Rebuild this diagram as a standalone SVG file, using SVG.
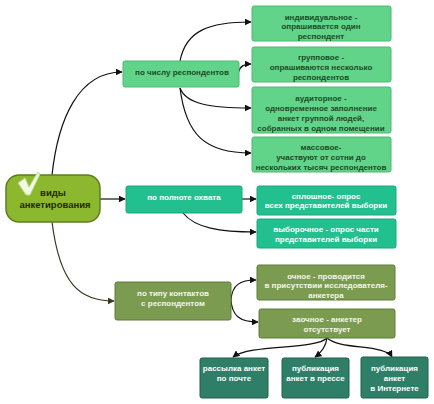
<svg xmlns="http://www.w3.org/2000/svg" width="434" height="404" viewBox="0 0 434 404">
<defs>
<marker id="ah" viewBox="0 0 10 10" refX="9" refY="5" markerWidth="7" markerHeight="7" markerUnits="userSpaceOnUse" orient="auto"><path d="M0,0 L10,5 L0,10 Z" fill="#111"/></marker>
<marker id="ahb" viewBox="0 0 10 10" refX="9" refY="5" markerWidth="7" markerHeight="7" markerUnits="userSpaceOnUse" orient="auto"><path d="M0,0 L10,5 L0,10 Z" fill="#3d3520"/></marker>
</defs>
<style>
text{font-family:"Liberation Sans",Arial,sans-serif;font-weight:bold;font-size:8px;text-anchor:middle}
.lg rect{fill:#62d48a;stroke:#4fb873;stroke-width:1}
.lg text{fill:#1d4a26}
.tl rect{fill:#22bf8f;stroke:#1aa67a;stroke-width:1}
.tl text{fill:#ffffff}
.ol rect{fill:#7b9b50;stroke:#5f7d3a;stroke-width:1}
.ol text{fill:#f4f6ea}
.dt rect{fill:#2e7e68;stroke:#21604f;stroke-width:1}
.dt text{fill:#ffffff}
.c{fill:none;stroke:#111;stroke-width:1.2;marker-end:url(#ah)}
.cb{fill:none;stroke:#3d3520;stroke-width:1.2;marker-end:url(#ahb)}
</style>
<rect width="434" height="404" fill="#ffffff"/>
<g id="connectors">
<path class="c" d="M52,175 C58,120 78,72 122,72"/>
<path class="c" d="M100,199 L125,199"/>
<path class="cb" d="M52,222 C60,285 80,301 114,301"/>
<path class="c" d="M180,61 C186,30 210,22 251,22"/>
<path class="c" d="M238,73 C240,66 244,64 251,64"/>
<path class="c" d="M180,88 C186,104 210,108 251,108"/>
<path class="c" d="M180,88 C186,135 205,153 251,153"/>
<path class="c" d="M242,199 L256,199"/>
<path class="c" d="M183,213 C195,228 220,232 256,232"/>
<path class="c" d="M231,300 C232,285 240,280 256,280"/>
<path class="c" d="M231,300 C232,316 240,322 258,322"/>
<path class="c" d="M327,338 C315,350 250,344 233,357"/>
<path class="c" d="M327,338 C326,346 322,352 315,357"/>
<path class="c" d="M327,338 C340,350 385,344 392,357"/>
</g>
<g id="root">
<rect x="6" y="175" width="94" height="47" rx="13" fill="#8cb830" stroke="#5f7d1c" stroke-width="1.5"/>
<path d="M18,183 L25,178 L29,187 L38,172 L40,174 L30,195 L26,195 Z" fill="#f2f8e6" stroke="#b8dc80" stroke-width="1"/>
<text x="53" y="196" style="font-size:9.5px;fill:#1d2b05">виды</text>
<text x="55" y="208" style="font-size:9.5px;fill:#1d2b05">анкетирования</text>
</g>
<g id="n-chislu" class="lg">
<rect x="123" y="61" width="116" height="26" rx="2"/>
<text x="182" y="75">по числу респондентов</text>
</g>
<g id="n-ind" class="lg">
<rect x="252" y="6" width="139" height="35" rx="2"/>
<text x="321" y="19.5">индивидуальное -</text>
<text x="321" y="29">опрашивается один</text>
<text x="321" y="38.5">респондент</text>
</g>
<g id="n-grp" class="lg">
<rect x="252" y="47" width="139" height="35" rx="2"/>
<text x="321" y="60">групповое -</text>
<text x="321" y="70">опрашиваются несколько</text>
<text x="321" y="80">респондентов</text>
</g>
<g id="n-aud" class="lg">
<rect x="252" y="87" width="139" height="46" rx="2"/>
<text x="321" y="100.5">аудиторное -</text>
<text x="321" y="111">одновременное заполнение</text>
<text x="321" y="121">анкет группой людей,</text>
<text x="321" y="131">собранных в одном помещении</text>
</g>
<g id="n-mass" class="lg">
<rect x="252" y="137" width="139" height="35" rx="2"/>
<text x="321" y="150">массовое-</text>
<text x="321" y="160">участвуют от сотни до</text>
<text x="321" y="170">нескольких тысяч респондентов</text>
</g>
<g id="n-polnote" class="tl">
<rect x="126" y="186" width="116" height="27" rx="2"/>
<text x="184" y="199.5">по полноте охвата</text>
</g>
<g id="n-splosh" class="tl">
<rect x="257" y="186" width="139" height="29" rx="2"/>
<text x="326" y="198.5">сплошное- опрос</text>
<text x="326" y="208">всех представителей выборки</text>
</g>
<g id="n-vyb" class="tl">
<rect x="257" y="219" width="139" height="29" rx="2"/>
<text x="326" y="231.5">выборочное - опрос части</text>
<text x="326" y="241.5">представителей выборки</text>
</g>
<g id="n-tipu" class="ol">
<rect x="115" y="282" width="116" height="38" rx="2"/>
<text x="173" y="296">по типу контактов</text>
<text x="173" y="306">с респондентом</text>
</g>
<g id="n-ochn" class="ol">
<rect x="257" y="265" width="138" height="35" rx="2"/>
<text x="326" y="278.5">очное - проводится</text>
<text x="326" y="288">в присутствии исследователя-</text>
<text x="326" y="297.5">анкетера</text>
</g>
<g id="n-zaochn" class="ol">
<rect x="259" y="309" width="136" height="29" rx="2"/>
<text x="327" y="321.5">заочное - анкетер</text>
<text x="327" y="331.5">отсутствует</text>
</g>
<g id="n-pochta" class="dt">
<rect x="200" y="358" width="68" height="40" rx="2"/>
<text x="234" y="370.5">рассылка анкет</text>
<text x="234" y="380.5">по почте</text>
</g>
<g id="n-pressa" class="dt">
<rect x="282" y="358" width="67" height="40" rx="2"/>
<text x="315.5" y="370.5">публикация</text>
<text x="315.5" y="380.5">анкет в прессе</text>
</g>
<g id="n-internet" class="dt">
<rect x="361" y="357" width="67" height="41" rx="2"/>
<text x="394.5" y="370.5">публикация</text>
<text x="394.5" y="380.5">анкет</text>
<text x="394.5" y="390.5">в Интернете</text>
</g>
</svg>
